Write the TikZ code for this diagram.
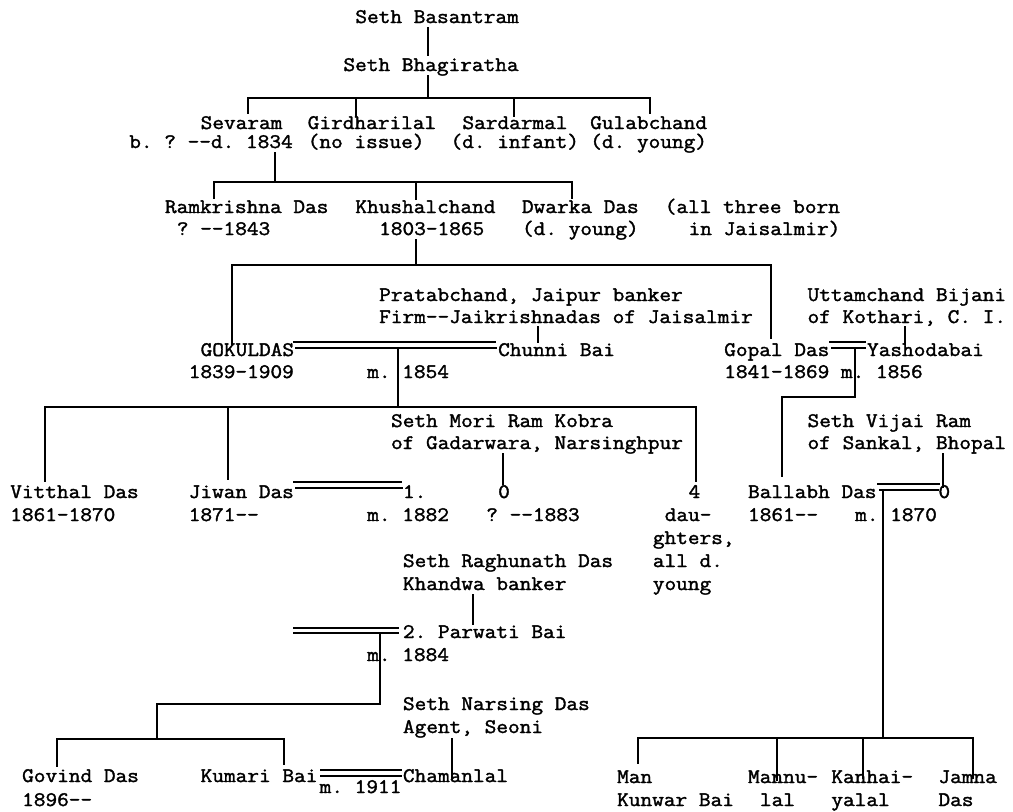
\documentclass[tikz,border=0pt]{standalone}
\usepackage{fontspec}
\newfontfamily\tw[FakeStretch=1.097,FakeBold=1.7]{Latin Modern Mono}
\begin{document}
\begin{tikzpicture}[x=0.75pt,y=-0.75pt,
  txt/.style={anchor=base west,inner sep=0pt,font=\tw\fontsize{15.5}{18}\selectfont\frenchspacing},
  ln/.style={line width=1.1pt,line cap=rect},
  dl/.style={line width=0.9pt}]
\useasboundingbox (0,0) rectangle (1013,811);
\fill[white] (0,0) rectangle (1013,811);
% ---------------- texts ----------------
\node[txt] (basantram) at (355.1,23) {Seth Basantram};
\node[txt] (bhagiratha) at (343.2,71) {Seth Bhagiratha};
\node[txt] (sevaram) at (200.4,129) {Sevaram};
\node[txt] (sevaramd) at (129,148) {b. ? -{}-d. 1834};
\node[txt] (girdhari) at (307.5,129) {Girdharilal};
\node[txt] (girdharid) at (307.5,148) {(no issue)};
\node[txt] (sardar) at (462.2,129) {Sardarmal};
\node[txt] (sardard) at (450.3,148) {(d. infant)};
\node[txt] (gulab) at (590,129) {Gulabchand};
\node[txt] (gulabd) at (590,148) {(d. young)};
\node[txt] (ramk) at (164.7,213) {Ramkrishna Das};
\node[txt] (ramkd) at (176.6,235) {? -{}-1843};
\node[txt] (khushal) at (355.1,213) {Khushalchand};
\node[txt] (khushald) at (378.9,235) {1803-1865};
\node[txt] (dwarka) at (521.7,213) {Dwarka Das};
\node[txt] (dwarkad) at (521.7,235) {(d. young)};
\node[txt] (note1) at (664.5,213) {(all three born};
\node[txt] (note2) at (688.3,235) {in Jaisalmir)};
\node[txt] (pratab) at (378.9,301) {Pratabchand, Jaipur banker};
\node[txt] (firm) at (378.9,323) {Firm-{}-Jaikrishnadas of Jaisalmir};
\node[txt] (uttam) at (807.3,301) {Uttamchand Bijani};
\node[txt] (kothari) at (807.3,323) {of Kothari, C. I.};
\node[txt] (gokul) at (200.4,356) {GOKULDAS};
\node[txt] (gokuld) at (188.5,378) {1839-1909};
\node[txt] (m1854) at (367,378) {m. 1854};
\node[txt] (chunni) at (497.9,356) {Chunni Bai};
\node[txt] (gopal) at (724,356) {Gopal Das};
\node[txt] (gopald) at (724,378) {1841-1869 m. 1856};
\node[txt] (yasho) at (866.8,356) {Yashodabai};
\node[txt] (mori) at (390.8,427) {Seth Mori Ram Kobra};
\node[txt] (morid) at (390.8,449) {of Gadarwara, Narsinghpur};
\node[txt] (vijai) at (807.3,427) {Seth Vijai Ram};
\node[txt] (vijaid) at (807.3,449) {of Sankal, Bhopal};
\node[txt] (vitthal) at (10,498) {Vitthal Das};
\node[txt] (vitthald) at (10,521) {1861-1870};
\node[txt] (jiwan) at (188.5,498) {Jiwan Das};
\node[txt] (jiwand) at (188.5,521) {1871-{}-};
\node[txt] (wifeone) at (402.7,498) {1.};
\node[txt] (m1882) at (367,521) {m. 1882};
\node[txt] (zeroa) at (497.9,498) {0};
\node[txt] (zeroad) at (486,521) {? -{}-1883};
\node[txt] (four) at (688.3,498) {4};
\node[txt] (foura) at (664.5,521) {dau-};
\node[txt] (fourb) at (652.6,544) {ghters,};
\node[txt] (fourc) at (652.6,567) {all d.};
\node[txt] (fourd) at (652.6,590) {young};
\node[txt] (ballabh) at (747.8,498) {Ballabh Das};
\node[txt] (ballabhd) at (747.8,521) {1861-{}-};
\node[txt] (m1870) at (854.9,521) {m. 1870};
\node[txt] (zerob) at (938.2,498) {0};
\node[txt] (raghu) at (402.7,567) {Seth Raghunath Das};
\node[txt] (raghud) at (402.7,590) {Khandwa banker};
\node[txt] (parwati) at (402.7,638) {2. Parwati Bai};
\node[txt] (m1884) at (367,661) {m. 1884};
\node[txt] (narsing) at (402.7,710) {Seth Narsing Das};
\node[txt] (narsingd) at (402.7,733) {Agent, Seoni};
\node[txt] (govind) at (21.9,782) {Govind Das};
\node[txt] (govindd) at (21.9,806) {1896-{}-};
\node[txt] (kumari) at (200.4,782) {Kumari Bai};
\node[txt] (m1911) at (319.4,793) {m. 1911};
\node[txt] (chaman) at (402.7,782) {Chamanlal};
\node[txt] (man) at (616.9,783) {Man};
\node[txt] (mand) at (616.9,806) {Kunwar Bai};
\node[txt] (mannu) at (747.8,783) {Mannu-};
\node[txt] (mannud) at (759.7,806) {lal};
\node[txt] (kanhai) at (831.1,783) {Kanhai-};
\node[txt] (kanhaid) at (831.1,806) {yalal};
\node[txt] (jamna) at (938.2,783) {Jamna};
\node[txt] (jamnad) at (938.2,806) {Das};
% ---------------- junction points ----------------
\coordinate (a1) at (428,28);  \coordinate (a2) at (428,55);
\coordinate (b1) at (428,76);  \coordinate (b2) at (428,98);
\coordinate (bl) at (248,98);  \coordinate (br) at (650,98);
\coordinate (bd1) at (248,113); \coordinate (bd2) at (356,98); \coordinate (bd2e) at (356,116);
\coordinate (bd3) at (514,98); \coordinate (bd3e) at (514,116); \coordinate (bd4) at (650,113);
\coordinate (c1) at (275,153); \coordinate (c2) at (275,182);
\coordinate (cl) at (214,182); \coordinate (cr) at (572,182);
\coordinate (cd1) at (214,198); \coordinate (cd2) at (416,182); \coordinate (cd2e) at (416,199);
\coordinate (cd3) at (572,198);
\coordinate (d1) at (416,240); \coordinate (d2) at (416,265);
\coordinate (dl) at (232,265); \coordinate (dr) at (771,265);
\coordinate (dd1) at (232,344); \coordinate (dd2) at (771,338);
\coordinate (f1) at (538,327); \coordinate (f2) at (538,342);
\coordinate (k1) at (905,327); \coordinate (k2) at (905,344);
\coordinate (g1) at (293,342); \coordinate (g2) at (496,342);
\coordinate (g3) at (295,348); \coordinate (g4) at (497,348);
\coordinate (g5) at (398,348); \coordinate (g6) at (398,407);
\coordinate (p1) at (829,342); \coordinate (p2) at (866,342);
\coordinate (p3) at (831,348); \coordinate (p4) at (866,348);
\coordinate (p5) at (855,348); \coordinate (p6) at (855,397);
\coordinate (p7) at (782,397); \coordinate (p8) at (782,476);
\coordinate (hl) at (45,407); \coordinate (hr) at (696,407);
\coordinate (hd1) at (45,481); \coordinate (hd2) at (228,407); \coordinate (hd2e) at (228,479);
\coordinate (hd3) at (696,481);
\coordinate (o1) at (503,454); \coordinate (o2) at (503,484);
\coordinate (v1) at (943,454); \coordinate (v2) at (943,487);
\coordinate (j1) at (293,482); \coordinate (j2) at (402,482);
\coordinate (j3) at (295,488); \coordinate (j4) at (403,488);
\coordinate (e1) at (877,484); \coordinate (e2) at (940,484);
\coordinate (e3) at (879,490); \coordinate (e4) at (939,490);
\coordinate (e5) at (883,490); \coordinate (e6) at (883,738);
\coordinate (ml) at (638,738); \coordinate (mr) at (973,738);
\coordinate (md1) at (638,763); \coordinate (md2) at (777,738); \coordinate (md2e) at (777,780);
\coordinate (md3) at (863,738); \coordinate (md3e) at (863,778); \coordinate (md4) at (973,778);
\coordinate (r1) at (473,595); \coordinate (r2) at (473,624);
\coordinate (q1) at (293,628); \coordinate (q2) at (399,628);
\coordinate (q3) at (293,633); \coordinate (q4) at (399,633);
\coordinate (q5) at (380,633); \coordinate (q6) at (380,704);
\coordinate (q7) at (157,704); \coordinate (q8) at (157,739);
\coordinate (kl) at (57,739); \coordinate (kr) at (284,739);
\coordinate (kd1) at (57,766); \coordinate (kd2) at (284,764);
\coordinate (n1) at (452,739); \coordinate (n2) at (452,779);
\coordinate (s1) at (320,770); \coordinate (s2) at (402,770);
\coordinate (s3) at (320,776); \coordinate (s4) at (402,776);
% ---------------- connectors ----------------
\draw[ln] (a1) -- (a2);
\draw[ln] (b1) -- (b2);
\draw[ln] (bl) -- (br);
\draw[ln] (bl) -- (bd1);
\draw[ln] (bd2) -- (bd2e);
\draw[ln] (bd3) -- (bd3e);
\draw[ln] (br) -- (bd4);
\draw[ln] (c1) -- (c2);
\draw[ln] (cl) -- (cr);
\draw[ln] (cl) -- (cd1);
\draw[ln] (cd2) -- (cd2e);
\draw[ln] (cr) -- (cd3);
\draw[ln] (d1) -- (d2);
\draw[ln] (dl) -- (dr);
\draw[ln] (dl) -- (dd1);
\draw[ln] (dr) -- (dd2);
\draw[ln] (f1) -- (f2);
\draw[ln] (k1) -- (k2);
\draw[dl] (g1) -- (g2);
\draw[dl] (g3) -- (g4);
\draw[ln] (g5) -- (g6);
\draw[dl] (p1) -- (p2);
\draw[dl] (p3) -- (p4);
\draw[ln] (p5) -- (p6) -- (p7) -- (p8);
\draw[ln] (hl) -- (hr);
\draw[ln] (hl) -- (hd1);
\draw[ln] (hd2) -- (hd2e);
\draw[ln] (hr) -- (hd3);
\draw[ln] (o1) -- (o2);
\draw[ln] (v1) -- (v2);
\draw[dl] (j1) -- (j2);
\draw[dl] (j3) -- (j4);
\draw[dl] (e1) -- (e2);
\draw[dl] (e3) -- (e4);
\draw[ln] (e5) -- (e6);
\draw[ln] (ml) -- (mr);
\draw[ln] (ml) -- (md1);
\draw[ln] (md2) -- (md2e);
\draw[ln] (md3) -- (md3e);
\draw[ln] (mr) -- (md4);
\draw[ln] (r1) -- (r2);
\draw[dl] (q1) -- (q2);
\draw[dl] (q3) -- (q4);
\draw[ln] (q5) -- (q6) -- (q7) -- (q8);
\draw[ln] (kl) -- (kr);
\draw[ln] (kl) -- (kd1);
\draw[ln] (kr) -- (kd2);
\draw[ln] (n1) -- (n2);
\draw[dl] (s1) -- (s2);
\draw[dl] (s3) -- (s4);
\end{tikzpicture}
\end{document}
